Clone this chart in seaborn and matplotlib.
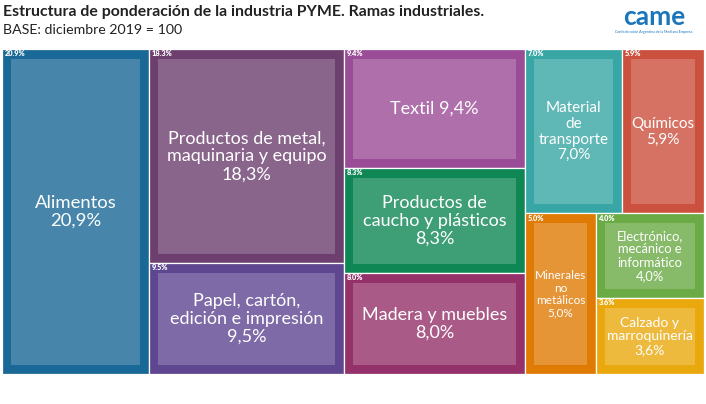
import matplotlib.pyplot as plt
import matplotlib.patches as mpatches
import seaborn as sns

sns.set_theme(style="white")
plt.rcParams['font.family'] = ['Lato', 'DejaVu Sans']

# datos: ramas industriales y su ponderacion (%)
ramas = ["Alimentos\n{}", "Productos de metal,\nmaquinaria y equipo\n{}",
         "Papel, cartón,\nedición e impresión\n{}", "Textil {}",
         "Productos de\ncaucho y plásticos\n{}", "Madera y muebles\n{}",
         "Material\nde\ntransporte\n{}", "Químicos\n{}",
         "Minerales\nno\nmetálicos\n{}", "Electrónico,\nmecánico e\ninformático\n{}",
         "Calzado y\nmarroquinería\n{}"]
pesos = [20.9, 18.3, 9.5, 9.4, 8.3, 8.0, 7.0, 5.9, 5.0, 4.0, 3.6]
colores = ["#1a6896", "#6c3f6f", "#5f4690", "#9a4c96", "#0e8755", "#94316a",
           "#38a6a5", "#cc503e", "#df7a05", "#6aab45", "#e9a90e"]
tam_fuente = [13.3, 13, 13, 13, 13, 13, 11, 11, 8.5, 9.3, 10]

# agrupacion del treemap (indices de ramas)
arbol = ('h', [0, ('v', [1, 2]), ('v', [3, 4, 5]),
               ('v', [('h', [6, 7]), ('h', [8, ('v', [9, 10])])])])


def total(nodo):
    if isinstance(nodo, int):
        return pesos[nodo]
    return sum(total(n) for n in nodo[1])


def layout(nodo, x, y, w, h, out):
    if isinstance(nodo, int):
        out[nodo] = (x, y, w, h)
        return
    orient, hijos = nodo
    t = total(nodo)
    pos = x if orient == 'h' else y
    for hijo in hijos:
        f = total(hijo) / t
        if orient == 'h':
            layout(hijo, pos, y, w * f, h, out)
            pos += w * f
        else:
            layout(hijo, x, pos, w, h * f, out)
            pos += h * f


rects = {}
layout(arbol, 0, 0, 100, 100, rects)

fig = plt.figure(figsize=(7.06, 4.04), dpi=100)
ax = fig.add_axes([2 / 706, 1 - 374 / 404, 702 / 706, 325 / 404])
ax.set_xlim(0, 100)
ax.set_ylim(100, 0)
ax.axis('off')

px_x = 100 / 702
px_y = 100 / 325
pad = 9

for i in range(len(pesos)):
    x, y, w, h = rects[i]
    ax.add_patch(mpatches.Rectangle((x, y), w, h, facecolor=colores[i],
                                    edgecolor='white', linewidth=0.9))
    ax.add_patch(mpatches.Rectangle((x + pad * px_x, y + (pad + 1) * px_y),
                                    w - 2 * pad * px_x, h - (2 * pad + 1) * px_y,
                                    facecolor='white', alpha=0.2, linewidth=0))
    ax.text(x + 3 * px_x, y + 1.5 * px_y, f"{pesos[i]:.1f}%", color='white',
            fontsize=5.3, fontweight='heavy', ha='left', va='top')
    etiqueta = ramas[i].format(f"{pesos[i]:.1f}".replace('.', ',') + "%")
    ax.text(x + w / 2, y + h / 2 + 0.5 * px_y, etiqueta, color='white',
            fontsize=tam_fuente[i], ha='center', va='center', linespacing=1.15)

fig.text(3 / 706, 1 - 12 / 404, "Estructura de ponderación de la industria PYME. Ramas industriales.",
         fontsize=11.4, fontweight='bold', color='#222222', ha='left', va='center')
fig.text(3 / 706, 1 - 30 / 404, "BASE: diciembre 2019 = 100",
         fontsize=10.2, color='#222222', ha='left', va='center')

# logo
fig.text(654 / 706, 1 - 17 / 404, "came", fontsize=19, fontweight='bold',
         color='#1b75bb', ha='center', va='center')
fig.text(654 / 706, 1 - 32 / 404, "Confederación Argentina de la Mediana Empresa",
         fontsize=2.6, color='#1b75bb', ha='center', va='center')

fig.savefig('out.png', dpi=100, facecolor='white')
